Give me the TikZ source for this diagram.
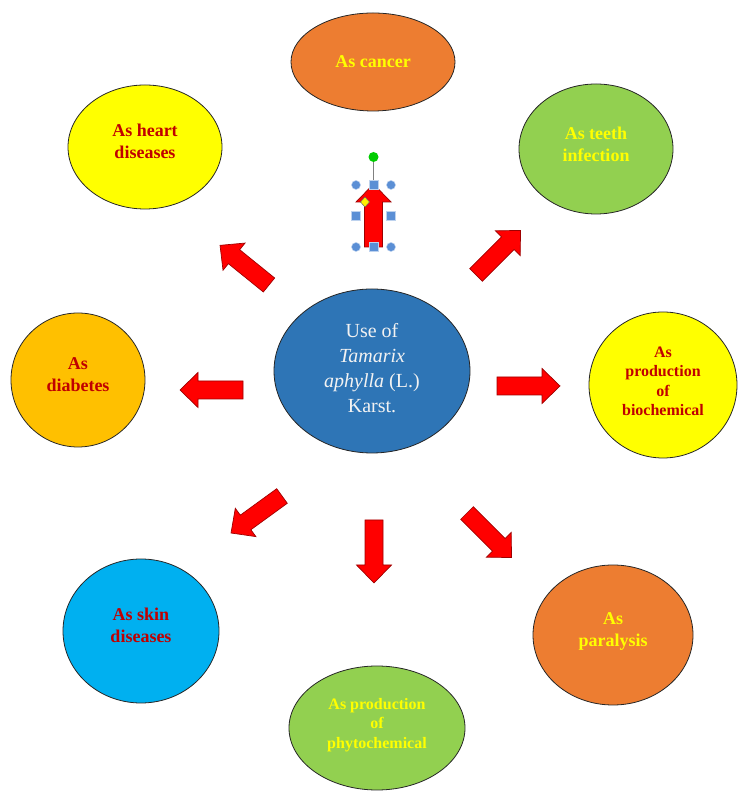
\documentclass[tikz,border=0pt]{standalone}
\usepackage{fontspec}
\setmainfont{Liberation Serif}
\usetikzlibrary{shapes.geometric}

\definecolor{useorange}{HTML}{ED7D31}
\definecolor{useyellow}{HTML}{FFFF00}
\definecolor{usegreen}{HTML}{92D050}
\definecolor{usegold}{HTML}{FFC000}
\definecolor{usecyan}{HTML}{00B0F0}
\definecolor{useblue}{HTML}{2E75B6}
\definecolor{textred}{HTML}{C00000}
\definecolor{arrowred}{HTML}{9E0000}
\definecolor{handleblue}{HTML}{5B8FD5}

\begin{document}
\begin{tikzpicture}[
    x=1pt, y=1pt,
    use/.style={ellipse, draw=black!85, line width=0.8pt, inner sep=0pt, align=center,
        text depth=10pt, font=\fontsize{18}{22}\selectfont\bfseries},
    small/.style={font=\fontsize{16}{19.5}\selectfont\bfseries},
    redtext/.style={text=textred},
    yellowtext/.style={text=useyellow},
    blockarrow/.style={fill=red, draw=arrowred, line width=0.7pt, line join=miter},
    handle/.style={fill=handleblue, draw=handleblue!40, line width=0.5pt}
]

    \useasboundingbox (0,0) rectangle (752,808);

    % Centre
    \node[use, fill=useblue, text=white!95!black, minimum width=196, minimum height=164,
        text depth=6pt, font=\fontsize{20}{25}\selectfont] (tamarix) at (372,437)
        {Use of\\\textit{Tamarix}\\\textit{aphylla} (L.)\\Karst.};

    % Uses round the centre
    \node[use, yellowtext, fill=useorange, minimum width=164, minimum height=98, text depth=0pt] (cancer) at (373,746) {As cancer};
    \node[use, redtext, fill=useyellow, minimum width=154, minimum height=124, text depth=12pt] (heart) at (145,661) {As heart\\diseases};
    \node[use, yellowtext, fill=usegreen, minimum width=154, minimum height=130] (teeth) at (596,659) {As teeth\\infection};
    \node[use, redtext, fill=usegold, minimum width=134, minimum height=134] (diabetes) at (78,428) {As\\diabetes};
    \node[use, small, redtext, fill=useyellow, minimum width=148, minimum height=146, text depth=8pt] (biochem) at (663,423) {As\\production\\of\\biochemical};
    \node[use, redtext, fill=usecyan, minimum width=156, minimum height=144, text depth=12pt] (skin) at (141,177) {As skin\\diseases};
    \node[use, small, yellowtext, fill=usegreen, minimum width=176, minimum height=124] (phyto) at (377,80) {As production\\of\\phytochemical};
    \node[use, yellowtext, fill=useorange, minimum width=160, minimum height=140] (paralysis) at (613,173) {As\\paralysis};

    % Block arrows: tail x / tail y / angle
    \foreach \x/\y/\a in {373.5/561/90, 243/418/180, 497/422/0, 374/288/270,
                          269/523/141, 476/533/45, 282/312/216, 467/295/-45}
        \draw[blockarrow, shift={(\x,\y)}, rotate=\a]
            (0,-9) -- (45,-9) -- (45,-17.5) -- (63,0) -- (45,17.5) -- (45,9) -- (0,9) -- cycle;

    % Selection handles of the upper arrow
    \draw[gray, line width=0.8pt] (373.5,623) -- (373.5,651);
    \fill[green!80!black] (373.5,651) circle (5);
    \foreach \x/\y in {356/623, 391/623, 356/561, 391/561}
        \draw[handle] (\x,\y) circle (4.5);
    \foreach \x/\y in {373.5/623, 373.5/561, 356/592, 391/592}
        \draw[handle] (\x-4.5,\y-4.5) rectangle (\x+4.5,\y+4.5);
    \draw[fill=yellow, draw=black!60, line width=0.5pt]
        (365,611) -- (369.5,606) -- (365,601) -- (360.5,606) -- cycle;

\end{tikzpicture}
\end{document}
